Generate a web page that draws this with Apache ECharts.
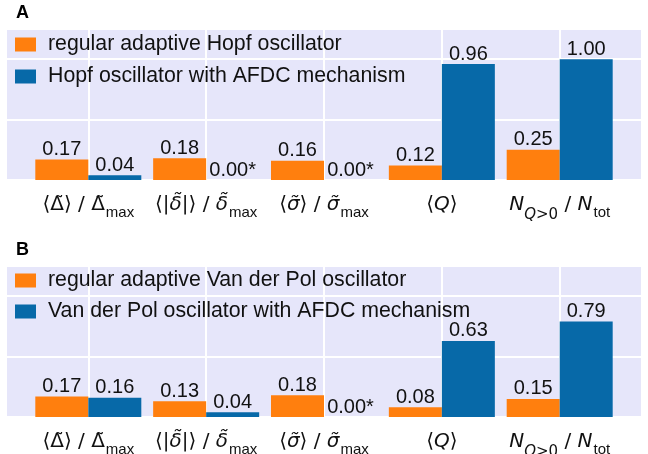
<!DOCTYPE html>
<html>
<head>
<meta charset="utf-8">
<script src="https://cdn.jsdelivr.net/npm/echarts@6/dist/echarts.min.js"></script>
<style>html,body{margin:0;padding:0;background:#fff;}#c{width:648px;height:454px;}</style>
</head>
<body>
<div id="c"></div>
<script>
const categoryLabels = [
  '{m|⟨Δ̃⟩ / Δ̃}{s|max}',
  '{m|⟨|}{i|δ̃}{m||⟩ / }{i|δ̃}{s|max}',
  '{m|⟨}{i|σ̃}{m|⟩ / }{i|σ̃}{s|max}',
  '{m|⟨}{i|Q}{m|⟩}',
  '{i|N}{qi|Q}{q|>0}{m| / }{i|N}{s|tot}'
];
const categoryPositions = [0, 1, 2, 3, 4];
const seriesNamesA = ['regular adaptive Hopf oscillator', 'Hopf oscillator with AFDC mechanism'];
const seriesNamesB = ['regular adaptive Van der Pol oscillator', 'Van der Pol oscillator with AFDC mechanism'];
const hopfRegular = [0.17, 0.18, 0.16, 0.12, 0.25];
const hopfAfdc = [0.04, 0.00, 0.00, 0.96, 1.00];
const vdpRegular = [0.17, 0.13, 0.18, 0.08, 0.15];
const vdpAfdc = [0.16, 0.04, 0.00, 0.63, 0.79];
const yTicks = [0, 0.5, 1.0];

const ORANGE = '#ff7f0e';
const BLUE = '#0769a8';
const BG = '#E6E6FA';
const FONT = 'Liberation Sans';

const rich = {
  m: {fontFamily: 'DejaVu Sans', fontSize: 20, lineHeight: 26, verticalAlign: 'top', color: '#111'},
  i: {fontFamily: 'DejaVu Sans', fontStyle: 'italic', fontSize: 20, lineHeight: 26, verticalAlign: 'top', color: '#111'},
  s: {fontFamily: FONT, fontSize: 15, lineHeight: 15, verticalAlign: 'top', padding: [10, 0, 0, 1], color: '#111'},
  qi: {fontFamily: 'DejaVu Sans', fontStyle: 'italic', fontSize: 15, lineHeight: 15, verticalAlign: 'top', padding: [13, 0, 0, 0], color: '#111'},
  q: {fontFamily: 'DejaVu Sans', fontSize: 15, lineHeight: 15, verticalAlign: 'top', padding: [13, 0, 0, 0], color: '#111'}
};

function toPoints(arr) { return arr.map((v, i) => [categoryPositions[i], v]); }

function xAxisFor(gi) {
  return {
    type: 'value', gridIndex: gi, min: -0.69, max: 4.69,
    axisLine: {show: false},
    axisTick: {show: false, customValues: categoryPositions},
    splitLine: {show: true, lineStyle: {color: '#fff', width: 2}},
    axisLabel: {
      show: true, margin: 15, rich: rich, customValues: categoryPositions,
      fontSize: 20, fontFamily: 'DejaVu Sans', color: '#111',
      formatter: function (v) {
        const k = categoryPositions.indexOf(Math.round(v));
        return k >= 0 ? categoryLabels[k] : '';
      }
    }
  };
}
function yAxisFor(gi) {
  return {
    type: 'value', gridIndex: gi, min: 0, max: 1.25, interval: yTicks[1] - yTicks[0],
    axisLine: {show: false}, axisTick: {show: false}, axisLabel: {show: false},
    splitLine: {show: true, lineStyle: {color: '#fff', width: 2}}
  };
}
const labelCfg = {
  show: true, position: 'top', distance: 0,
  fontFamily: FONT, fontSize: 20, color: '#111',
  formatter: function (p) { const v = p.value[1]; return v.toFixed(2) + (v === 0 ? '*' : ''); }
};
function barSeries(name, arr, color, gi) {
  return {
    type: 'bar', name: name, xAxisIndex: gi, yAxisIndex: gi,
    data: toPoints(arr), barWidth: 53, barGap: '0%',
    itemStyle: {color: color}, label: labelCfg
  };
}

const chart = echarts.init(document.getElementById('c'), null, {renderer: 'canvas'});
chart.setOption({
  animation: false,
  backgroundColor: '#fff',
  title: [
    {text: 'A', left: 16, top: 4, padding: 0, textStyle: {fontFamily: FONT, fontWeight: 'bold', fontSize: 18, color: '#000'}},
    {text: 'B', left: 16, top: 241, padding: 0, textStyle: {fontFamily: FONT, fontWeight: 'bold', fontSize: 18, color: '#000'}}
  ],
  grid: [
    {left: 7, top: 29, width: 634, height: 151, show: true, backgroundColor: BG, borderWidth: 0,
     containLabel: false, outerBoundsMode: 'none'},
    {left: 7, top: 266, width: 634, height: 151, show: true, backgroundColor: BG, borderWidth: 0,
     containLabel: false, outerBoundsMode: 'none'}
  ],
  legend: [
    {data: seriesNamesA, orient: 'vertical', left: 15, top: 34, padding: 0, itemGap: 11,
     itemWidth: 21, itemHeight: 14, icon: 'rect',
     textStyle: {fontFamily: FONT, fontSize: 21.3, color: '#111', padding: [0, 0, 0, 7]}},
    {data: seriesNamesB, orient: 'vertical', left: 15, top: 270, padding: 0, itemGap: 10,
     itemWidth: 21, itemHeight: 14, icon: 'rect',
     textStyle: {fontFamily: FONT, fontSize: 21.3, color: '#111', padding: [0, 0, 0, 7]}}
  ],
  xAxis: [xAxisFor(0), xAxisFor(1)],
  yAxis: [yAxisFor(0), yAxisFor(1)],
  series: [
    barSeries(seriesNamesA[0], hopfRegular, ORANGE, 0),
    barSeries(seriesNamesA[1], hopfAfdc, BLUE, 0),
    barSeries(seriesNamesB[0], vdpRegular, ORANGE, 1),
    barSeries(seriesNamesB[1], vdpAfdc, BLUE, 1)
  ]
});
</script>
</body>
</html>
